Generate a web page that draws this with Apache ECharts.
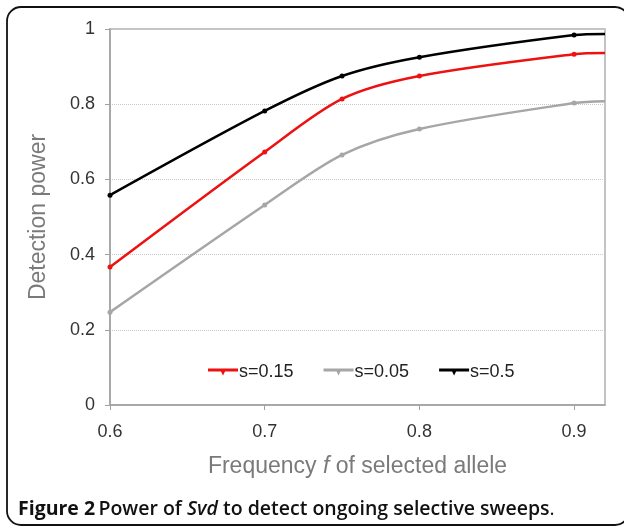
<!DOCTYPE html>
<html><head><meta charset="utf-8">
<script src="https://cdn.jsdelivr.net/npm/echarts@6/dist/echarts.min.js"></script>
<style>html,body{margin:0;padding:0;background:#fff}#c{width:624px;height:526px}</style>
</head><body><div id="c"></div>
<script>
var freq = [0.6, 0.7, 0.75, 0.8, 0.9, 0.92];
var s015 = [0.367, 0.673, 0.814, 0.875, 0.933, 0.936];
var s005 = [0.247, 0.532, 0.665, 0.734, 0.803, 0.808];
var s05  = [0.558, 0.782, 0.875, 0.925, 0.984, 0.987];
var seriesNames = ['s=0.15', 's=0.05', 's=0.5'];
var seriesColors = ['#ee1111', '#a6a6a6', '#000000'];
var yTicks = [0, 0.2, 0.4, 0.6, 0.8, 1];
var FF = 'Liberation Sans';

function pairs(v) {
  return freq.map(function (f, i) {
    var d = {value: [f, v[i]]};
    if (i === freq.length - 1) d.symbolSize = 0;
    return d;
  });
}
var allData = [s015, s005, s05];
var chart = echarts.init(document.getElementById('c'));
chart.setOption({
  animation: false,
  textStyle: {fontFamily: FF},
  grid: {left: 110, right: 19, top: 29, bottom: 121, show: true, borderColor: '#b0b0b0', borderWidth: 1.5},
  legend: {
    data: seriesNames, left: 203, top: 358, itemWidth: 30, itemHeight: 7, itemGap: 30,
    icon: 'path://M0,0 L30,0 L30,3 L17,3 L15,7 L13,3 L0,3 Z',
    textStyle: {fontFamily: FF, fontSize: 18, color: '#222', padding: [0, 0, 0, -4]}
  },
  xAxis: {
    type: 'value', min: 0.6, max: 0.92, interval: 0.1,
    name: '{a|Frequency }{i|f}{a| of selected allele}', nameLocation: 'middle', nameGap: 50,
    nameTextStyle: {fontFamily: FF, fontSize: 23, color: '#7a7a7a',
      rich: {a: {fontFamily: FF, fontSize: 23, color: '#7a7a7a'},
             i: {fontFamily: FF, fontSize: 23, color: '#7a7a7a', fontStyle: 'italic'}}},
    axisLine: {lineStyle: {color: '#a0a0a0', width: 1.5}},
    axisTick: {show: true, length: 5, lineStyle: {color: '#a0a0a0'}},
    axisLabel: {fontFamily: FF, fontSize: 18, color: '#333', margin: 18, showMaxLabel: false,
      formatter: function (v) { return v.toFixed(1); }},
    splitLine: {show: false}
  },
  yAxis: {
    type: 'value', min: 0, max: 1, interval: 0.2,
    name: 'Detection power', nameLocation: 'middle', nameGap: 60,
    nameTextStyle: {fontFamily: FF, fontSize: 23, color: '#7a7a7a'},
    axisLine: {show: true, lineStyle: {color: '#a0a0a0', width: 1.5}},
    axisTick: {show: true, length: 5, lineStyle: {color: '#a0a0a0'}},
    axisLabel: {fontFamily: FF, fontSize: 18, color: '#333', margin: 15,
      formatter: function (v) { return yTicks.indexOf(+v.toFixed(1)) >= 0 ? String(+v.toFixed(1)) : ''; }},
    splitLine: {show: true, lineStyle: {color: '#c8c8c8', type: 'dotted', width: 1}}
  },
  series: seriesNames.map(function (n, i) {
    return {
      name: n, type: 'line', smooth: 0.3, data: pairs(allData[i]),
      symbol: 'circle', symbolSize: 5, showSymbol: true,
      lineStyle: {color: seriesColors[i], width: 2.5},
      itemStyle: {color: seriesColors[i]}
    };
  }),
  graphic: [
    {type: 'rect', shape: {x: 7, y: 7, width: 622, height: 518, r: 14},
      style: {fill: null, stroke: '#111', lineWidth: 1.8}, silent: true},
    {type: 'text', left: 18, top: 499,
      style: {
        text: '{b|Figure 2} {n|Power of }{i|Svd}{n| to detect ongoing selective sweeps}{s|.}',
        rich: {
          b: {fontFamily: 'Open Sans', fontWeight: 'bold', fontSize: 19.5, fill: '#111'},
          n: {fontFamily: 'Open Sans', fontWeight: 600, fontSize: 19.5, fill: '#111'},
          i: {fontFamily: 'Open Sans', fontWeight: 600, fontStyle: 'italic', fontSize: 19.5, fill: '#111'},
          s: {fontFamily: 'Open Sans', fontWeight: 'normal', fontSize: 19.5, fill: '#111'}
        }
      }}
  ]
});
</script></body></html>
